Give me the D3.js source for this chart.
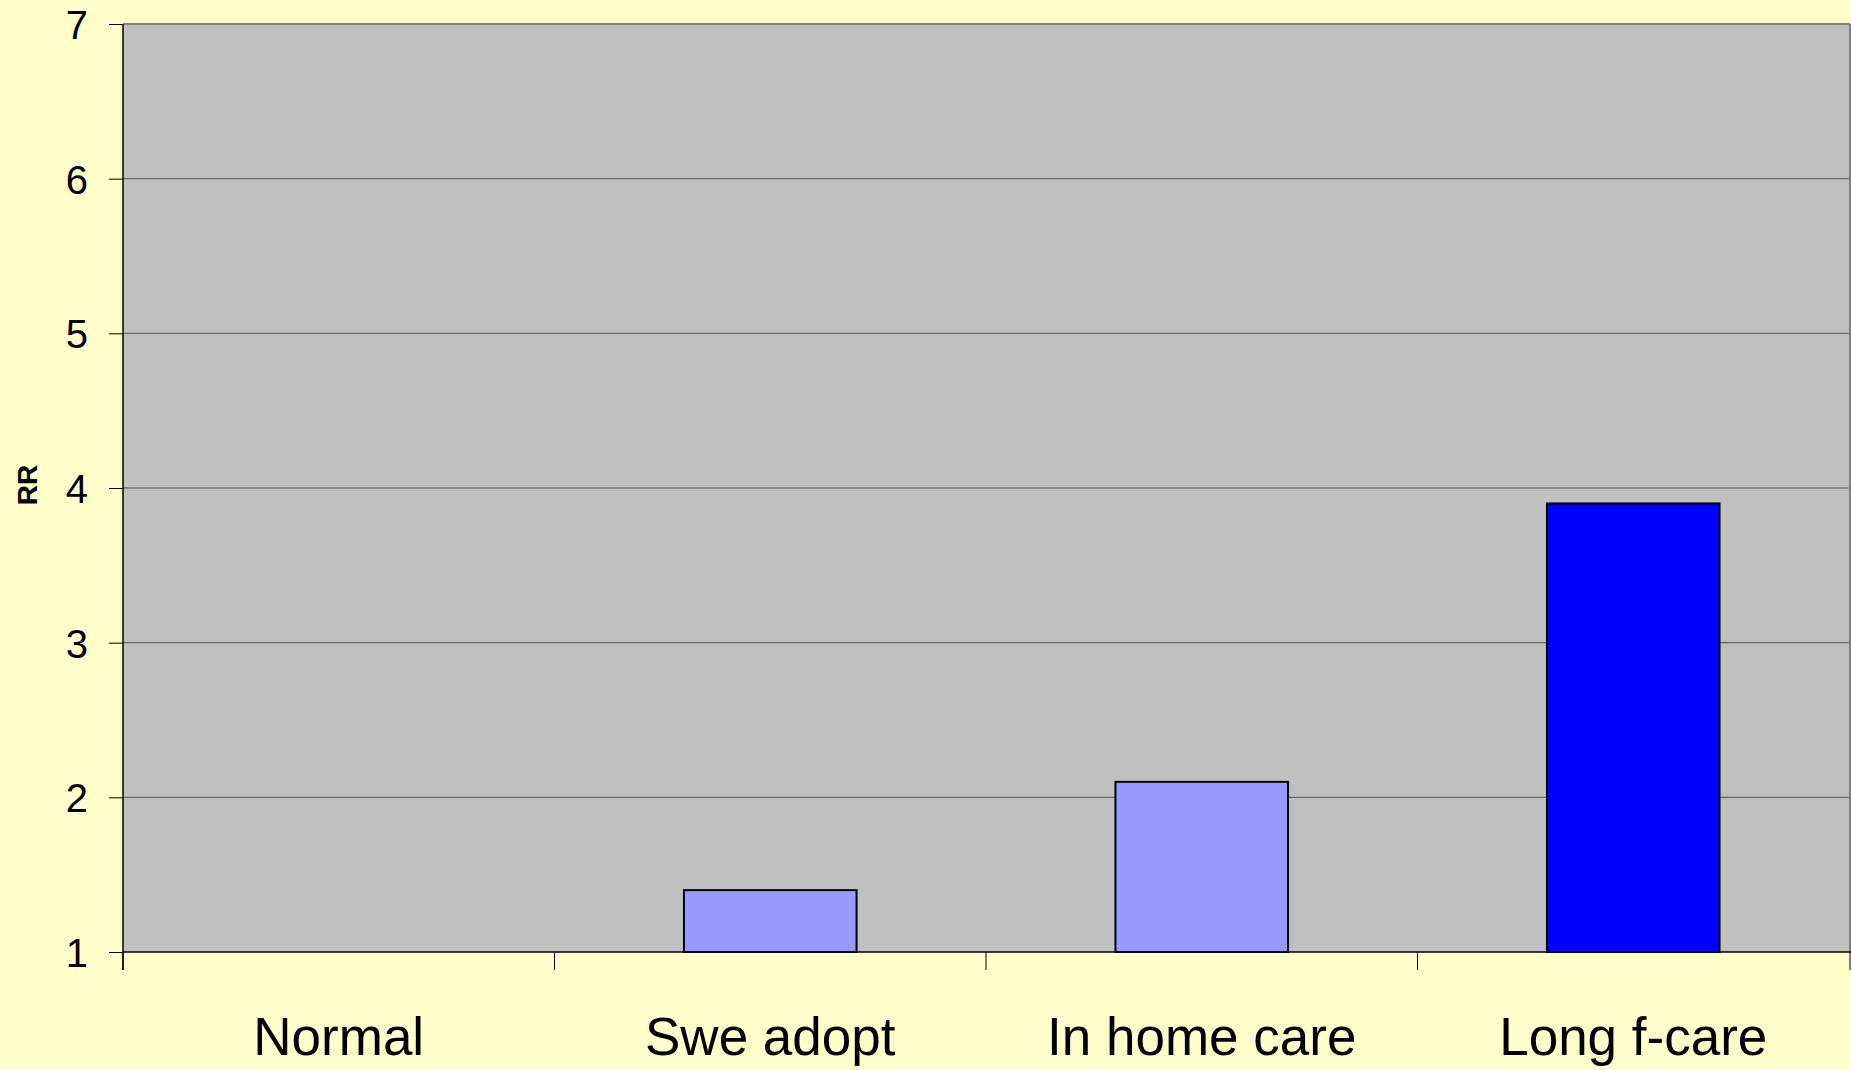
<!DOCTYPE html>
<html><head><meta charset="utf-8">
<script src="https://cdn.jsdelivr.net/npm/d3@7"></script>
<style>html,body{margin:0;padding:0;background:#FFFFCC;overflow:hidden}</style>
</head><body>
<svg id="c" width="1851" height="1070"></svg>
<script>
const categories = ["Normal", "Swe adopt", "In home care", "Long f-care"];
const values = [1.0, 1.4, 2.1, 3.9];
const barColors = ["#9999FF", "#9999FF", "#9999FF", "#0000FF"];
const yTicks = [1, 2, 3, 4, 5, 6, 7];
const yLabel = "RR";

const svg = d3.select("#c");
const L = 123, R = 1849, T = 24, B = 952;
const x = d3.scaleBand().domain(categories).range([L, R]).paddingInner(0).paddingOuter(0);
const y = d3.scaleLinear().domain([1, 7]).range([B, T]);
const font = "'Liberation Sans', Arial, sans-serif";

svg.append("rect").attr("width", 1851).attr("height", 1070).attr("fill", "#FFFFCC");
svg.append("rect").attr("x", L).attr("y", T).attr("width", R - L).attr("height", B - T).attr("fill", "#C0C0C0");

// gridlines
svg.append("g").selectAll("line").data(yTicks.filter(d => d > 1 && d < 7)).join("line")
  .attr("x1", L).attr("x2", R).attr("y1", d => y(d)).attr("y2", d => y(d))
  .attr("stroke", "#505050").attr("stroke-width", 1);

// plot border top & right
svg.append("line").attr("x1", L).attr("x2", R + 1).attr("y1", T).attr("y2", T).attr("stroke", "#808080").attr("stroke-width", 2);
svg.append("line").attr("x1", R + 1).attr("x2", R + 1).attr("y1", T).attr("y2", B).attr("stroke", "#808080").attr("stroke-width", 2);

// bars
const bw = x.bandwidth() * 0.4;
svg.append("g").selectAll("rect").data(categories.map((c, i) => ({c, v: values[i], col: barColors[i]})).filter(d => d.v > 1)).join("rect")
  .attr("x", d => x(d.c) + (x.bandwidth() - bw) / 2)
  .attr("y", d => y(d.v))
  .attr("width", bw)
  .attr("height", d => y(1) - y(d.v))
  .attr("fill", d => d.col)
  .attr("stroke", "#000").attr("stroke-width", 2);

// y axis
const yAxis = d3.axisLeft(y).tickValues(yTicks).tickSize(14).tickPadding(21).tickFormat(d3.format("d"));
const ya = svg.append("g").attr("transform", `translate(${L},0)`).call(yAxis);
ya.select(".domain").attr("stroke", "#000").attr("stroke-width", 1.5).attr("d", `M0,${T}V${B + 18}`);
ya.selectAll(".tick line").attr("stroke", "#000");
ya.selectAll(".tick text").attr("font-family", font).attr("font-size", 40).attr("fill", "#000").attr("dy", "0.36em");

// x axis
const xa = svg.append("g").attr("transform", `translate(0,${B})`);
xa.append("line").attr("x1", L).attr("x2", R + 2).attr("y1", 0).attr("y2", 0).attr("stroke", "#000").attr("stroke-width", 1.5);
const bounds = categories.map(c => x(c)).concat([R + 1]);
xa.selectAll("line.tk").data(bounds).join("line").attr("class", "tk")
  .attr("x1", d => d).attr("x2", d => d).attr("y1", 0).attr("y2", 18).attr("stroke", "#000").attr("stroke-width", 1);
xa.selectAll("text").data(categories).join("text")
  .attr("x", d => x(d) + x.bandwidth() / 2).attr("y", 1055 - B)
  .attr("text-anchor", "middle").attr("font-family", font).attr("font-size", 53).attr("fill", "#000")
  .text(d => d);

// y label
svg.append("text").attr("transform", `translate(37,485) rotate(-90)`)
  .attr("text-anchor", "middle").attr("font-family", font).attr("font-weight", "bold").attr("font-size", 28)
  .attr("fill", "#000").text(yLabel);
</script>
</body></html>
